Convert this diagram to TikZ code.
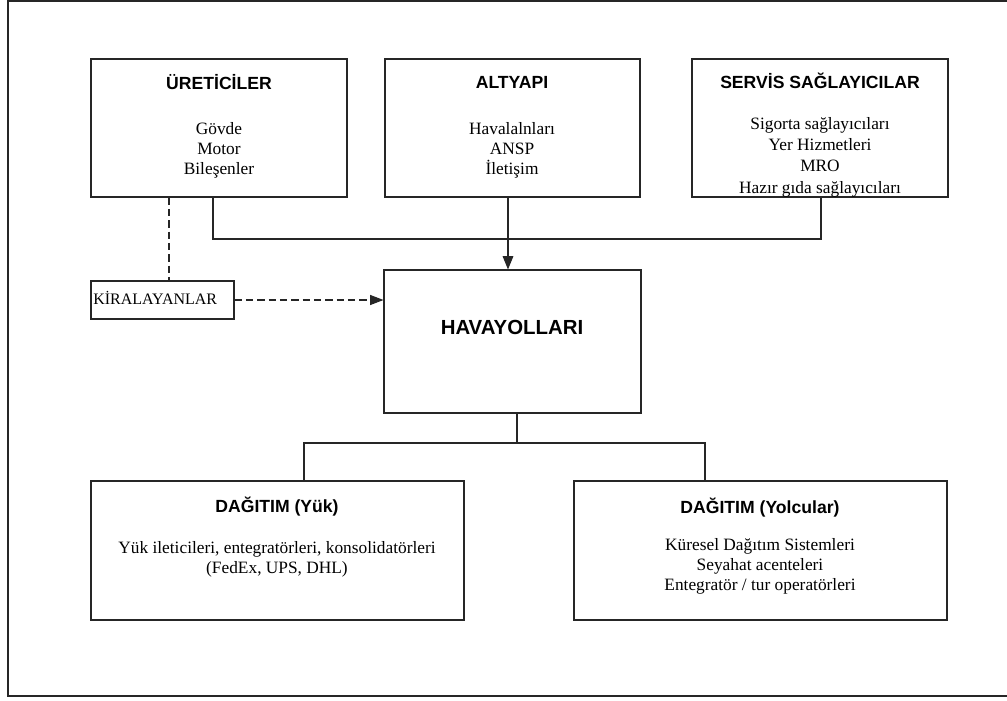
\documentclass[tikz,border=0pt]{standalone}
\usepackage{fontspec}
\setmainfont{Liberation Serif}
\setsansfont{Liberation Sans}
\usetikzlibrary{fit,arrows.meta}

\tikzset{
  box/.style={draw=black!85, line width=0.8pt, inner sep=0pt},
  wire/.style={draw=black!85, line width=0.8pt},
  leasewire/.style={wire, dash pattern=on 5.5pt off 3pt},
  feedarrow/.style={wire, -{Triangle[length=10pt,width=8pt]}},
  leasearrow/.style={leasewire, -{Triangle[length=10pt,width=7.5pt]}},
  title/.style={font=\sffamily\bfseries\fontsize{13.2}{16}\selectfont, inner sep=0pt},
  bigtitle/.style={font=\sffamily\bfseries\fontsize{15.3}{18}\selectfont, inner sep=0pt},
  body/.style={font=\fontsize{13}{15}\selectfont, align=center, inner sep=0pt},
}

\begin{document}
\begin{tikzpicture}[x=0.75pt, y=-0.75pt]
  \useasboundingbox (0,0) rectangle (1007,700);
  % outer frame
  \draw[line width=1pt, draw=black!85] (8,1) rectangle (1010,696);

  % suppliers row
  \node[box, fit={(91,59) (347,197)}] (ure) {};
  \node[box, fit={(385,59) (640,197)}] (alt) {};
  \node[box, fit={(692,59) (948,197)}] (ser) {};

  \node[title] (ureT) at (219,82) {ÜRETİCİLER};
  \node[body]  (ureB) at (219,150) {Gövde\\Motor\\Bileşenler};

  \node[title] (altT) at (512,82) {ALTYAPI};
  \node[body]  (altB) at (512,150) {Havalalnları\\ANSP\\İletişim};

  \node[title] (serT) at (820,81) {SERVİS SAĞLAYICILAR};
  \node[body, font=\fontsize{13}{16}\selectfont] (serB) at (820,157)
    {Sigorta sağlayıcıları\\Yer Hizmetleri\\MRO\\Hazır gıda sağlayıcıları};

  % lessors and airlines
  \node[box, fit={(91,281) (234,319)}] (kir) {};
  \node[body, font=\fontsize{12}{14}\selectfont, anchor=west] (kirT) at (93,298) {KİRALAYANLAR};

  \node[box, fit={(384,270) (641,413)}] (hav) {};
  \node[bigtitle] (havT) at (512,327) {HAVAYOLLARI};

  % distribution row
  \node[box, fit={(91,481) (464,620)}] (yuk) {};
  \node[title] (yukT) at (277,507) {DAĞITIM (Yük)};
  \node[body]  (yukB) at (277,559) {Yük ileticileri, entegratörleri, konsolidatörleri\\(FedEx, UPS, DHL)};

  \node[box, fit={(574,481) (947,620)}] (yol) {};
  \node[title] (yolT) at (760,508) {DAĞITIM (Yolcular)};
  \node[body]  (yolB) at (760,566) {Küresel Dağıtım Sistemleri\\Seyahat acenteleri\\Entegratör / tur operatörleri};

  % supplier bus into the airlines box
  \coordinate (busL) at (213,239);
  \coordinate (busR) at (821,239);
  \coordinate (feed) at (508,239);
  \draw[wire] (ure.south -| busL) -- (busL) -- (busR) -- (ser.south -| busR);
  \draw[feedarrow] (alt.south -| feed) -- (feed |- hav.north);

  % leasing links
  \coordinate (lease) at (169,240);
  \draw[leasewire] (ure.south -| lease) -- (kir.north -| lease);
  \draw[leasearrow] (kir.east) -- (kir.east -| hav.west);

  % distribution split
  \coordinate (split) at (517,443);
  \coordinate (brL) at (304,443);
  \coordinate (brR) at (705,443);
  \draw[wire] (hav.south -| split) -- (split);
  \draw[wire] (yuk.north -| brL) -- (brL) -- (brR) -- (yol.north -| brR);
\end{tikzpicture}
\end{document}
